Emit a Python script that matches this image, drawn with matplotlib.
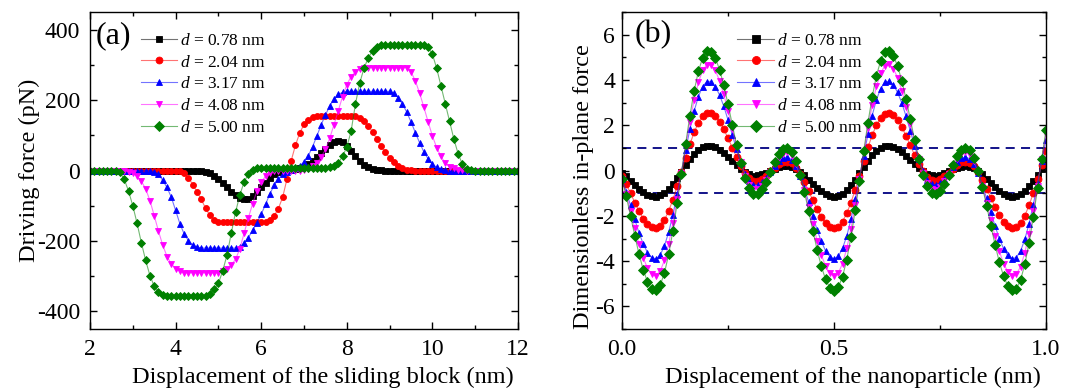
import matplotlib
matplotlib.use('Agg')
import matplotlib.pyplot as plt
import matplotlib.colors as mcolors
from matplotlib.ticker import MultipleLocator, FormatStrFormatter
import numpy as np

plt.rcParams['font.family'] = 'Liberation Serif'
plt.rcParams['mathtext.fontset'] = 'custom'
plt.rcParams['mathtext.it'] = 'Liberation Serif:italic'
plt.rcParams['mathtext.rm'] = 'Liberation Serif'
plt.rcParams['axes.unicode_minus'] = False

# series shared by both panels
labels = ['$d$ = 0.78 nm', '$d$ = 2.04 nm', '$d$ = 3.17 nm', '$d$ = 4.08 nm', '$d$ = 5.00 nm']
colors = ['#000000', '#ff0000', '#0000ff', '#ff00ff', '#008000']
markers = ['s', 'o', '^', 'v', 'D']

# (a) driving force (pN) vs displacement of the sliding block, 2..12 nm every 0.1 nm
block_x = np.linspace(2, 12, 101)
drive_078 = ([0] * 27
             + [-3, -8, -16, -24, -36, -48, -60, -70, -77, -81,
                -80, -73, -62, -48, -34, -21, -11, -4, 0, 1,
                2, 4, 7, 11, 18, 27, 38, 50, 62, 73,
                81, 85, 81, 71, 56, 41, 27, 16, 9, 4,
                2, 1]
             + [0] * 32)
drive_204 = ([0] * 21
             + [-2, -7, -20, -40, -60, -82, -107, -127, -139, -145]
             + [-147] * 11
             + [-141, -129, -108, -76, -25, 28, 72, 107, 131, 144, 151]
             + [154] * 10
             + [150, 141, 127, 110, 90, 70, 52, 36, 23, 13, 7, 3, 1]
             + [0] * 25)
drive_317 = ([0] * 15
             + [-3, -10, -28, -48, -76, -113, -151, -180, -199, -211, -217]
             + [-220] * 9
             + [-216, -206, -190, -170, -148, -124, -96, -67, -42, -24, -11, -3,
                3, 8, 14, 24, 42, 68, 98, 130, 158, 183, 203, 216, 222]
             + [225] * 11
             + [219, 207, 189, 166, 138, 108, 79, 53, 33, 18, 9, 4, 2]
             + [0] * 17)
drive_408 = ([0] * 9
             + [-3, -8, -16, -30, -52, -85, -128, -172, -212, -244, -265, -278, -285]
             + [-290] * 9
             + [-286, -279, -268, -252, -222, -178, -134, -94, -58, -33, -16, -7, -2]
             + [0] * 6
             + [2, 5, 12, 22, 38, 60, 92, 130, 170, 210, 244, 267, 280, 288]
             + [292] * 11
             + [280, 255, 220, 180, 138, 98, 65, 40, 21, 11, 6, 3, 1]
             + [0] * 13)
drive_500 = ([0] * 7
             + [-5, -25, -58, -100, -150, -205, -255, -298, -328, -344, -352]
             + [-355] * 10
             + [-350, -337, -320, -285, -240, -178, -118, -70, -32, -10, 2]
             + [8] * 17
             + [10, 14, 22, 40, 67, 112, 188, 248, 290, 320, 340, 352]
             + [357] * 11
             + [350, 330, 290, 240, 190, 140, 90, 48, 18, 5, 1]
             + [0] * 11)

# (b) dimensionless in-plane force vs displacement of the nanoparticle, 0..1 nm every 0.01 nm
particle_x = np.linspace(0, 1, 101)
inplane_078 = [-0.09, -0.26, -0.44, -0.63, -0.80, -0.95, -1.07, -1.13, -1.15, -1.10,
               -0.99, -0.81, -0.59, -0.33, -0.05, 0.23, 0.49, 0.72, 0.90, 1.03,
               1.09, 1.09, 1.03, 0.93, 0.78, 0.61, 0.42, 0.24, 0.07, -0.07,
               -0.17, -0.22, -0.21, -0.17, -0.10, -0.02, 0.07, 0.14, 0.19, 0.20,
               0.16, 0.08, -0.05, -0.21, -0.40, -0.58, -0.76, -0.92, -1.04, -1.12,
               -1.15, -1.12, -1.02, -0.86, -0.65, -0.40, -0.12, 0.16, 0.43, 0.67,
               0.86, 1.00, 1.09, 1.10, 1.05, 0.96, 0.82, 0.65, 0.47, 0.28,
               0.11, -0.04, -0.15, -0.21, -0.22, -0.19, -0.12, -0.04, 0.05, 0.13,
               0.18, 0.20, 0.18, 0.10, -0.02, -0.17, -0.35, -0.54, -0.72, -0.88,
               -1.02, -1.11, -1.15, -1.13, -1.05, -0.90, -0.70, -0.46, -0.19, 0.09,
               0.36]
inplane_204 = [-0.23, -0.60, -1.00, -1.41, -1.79, -2.12, -2.37, -2.51, -2.55, -2.44,
               -2.18, -1.78, -1.28, -0.69, -0.06, 0.57, 1.16, 1.69, 2.11, 2.40,
               2.54, 2.53, 2.40, 2.16, 1.82, 1.43, 1.01, 0.59, 0.20, -0.11,
               -0.33, -0.44, -0.44, -0.36, -0.22, -0.04, 0.13, 0.28, 0.38, 0.40,
               0.32, 0.13, -0.15, -0.50, -0.90, -1.31, -1.70, -2.05, -2.32, -2.49,
               -2.55, -2.48, -2.25, -1.89, -1.41, -0.84, -0.22, 0.41, 1.02, 1.56,
               2.01, 2.33, 2.52, 2.54, 2.44, 2.22, 1.92, 1.53, 1.11, 0.69,
               0.29, -0.04, -0.29, -0.42, -0.45, -0.38, -0.26, -0.09, 0.09, 0.25,
               0.36, 0.40, 0.35, 0.19, -0.07, -0.41, -0.80, -1.21, -1.61, -1.97,
               -2.26, -2.45, -2.55, -2.51, -2.32, -1.99, -1.54, -0.99, -0.38, 0.25,
               0.87]
inplane_317 = [-0.37, -0.93, -1.54, -2.16, -2.75, -3.24, -3.62, -3.84, -3.90, -3.73,
               -3.32, -2.72, -1.94, -1.04, -0.07, 0.90, 1.82, 2.62, 3.27, 3.71,
               3.93, 3.92, 3.71, 3.34, 2.84, 2.23, 1.58, 0.94, 0.35, -0.13,
               -0.47, -0.63, -0.63, -0.51, -0.31, -0.05, 0.21, 0.43, 0.56, 0.60,
               0.48, 0.19, -0.24, -0.78, -1.38, -2.01, -2.61, -3.13, -3.54, -3.80,
               -3.90, -3.79, -3.44, -2.89, -2.15, -1.27, -0.32, 0.66, 1.60, 2.43,
               3.13, 3.62, 3.90, 3.94, 3.78, 3.45, 2.98, 2.39, 1.75, 1.10,
               0.49, -0.02, -0.40, -0.61, -0.64, -0.55, -0.36, -0.12, 0.15, 0.38,
               0.54, 0.60, 0.52, 0.27, -0.12, -0.64, -1.23, -1.85, -2.46, -3.01,
               -3.45, -3.75, -3.89, -3.84, -3.55, -3.04, -2.34, -1.50, -0.56, 0.42,
               1.37]
inplane_408 = [-0.37, -1.05, -1.79, -2.55, -3.25, -3.85, -4.31, -4.58, -4.64, -4.44,
               -3.96, -3.24, -2.31, -1.24, -0.09, 1.07, 2.16, 3.12, 3.89, 4.42,
               4.68, 4.66, 4.42, 3.97, 3.36, 2.63, 1.85, 1.07, 0.36, -0.22,
               -0.63, -0.83, -0.82, -0.67, -0.40, -0.06, 0.28, 0.57, 0.75, 0.80,
               0.65, 0.30, -0.22, -0.87, -1.60, -2.36, -3.09, -3.72, -4.22, -4.53,
               -4.65, -4.52, -4.11, -3.44, -2.56, -1.52, -0.38, 0.78, 1.90, 2.89,
               3.72, 4.30, 4.64, 4.69, 4.50, 4.10, 3.53, 2.82, 2.04, 1.26,
               0.53, -0.09, -0.55, -0.80, -0.84, -0.72, -0.47, -0.15, 0.20, 0.51,
               0.72, 0.80, 0.70, 0.41, -0.07, -0.70, -1.42, -2.17, -2.91, -3.57,
               -4.11, -4.47, -4.64, -4.58, -4.24, -3.63, -2.79, -1.79, -0.67, 0.49,
               1.62]
inplane_500 = [-0.35, -1.14, -2.00, -2.87, -3.69, -4.38, -4.91, -5.22, -5.29, -5.06,
               -4.52, -3.70, -2.65, -1.44, -0.13, 1.18, 2.42, 3.51, 4.38, 4.98,
               5.27, 5.25, 4.97, 4.46, 3.76, 2.93, 2.03, 1.14, 0.33, -0.33,
               -0.79, -1.03, -1.02, -0.82, -0.49, -0.07, 0.36, 0.72, 0.94, 1.00,
               0.83, 0.42, -0.18, -0.93, -1.78, -2.65, -3.49, -4.23, -4.80, -5.17,
               -5.30, -5.15, -4.69, -3.93, -2.93, -1.75, -0.46, 0.85, 2.12, 3.25,
               4.19, 4.85, 5.23, 5.28, 5.07, 4.61, 3.96, 3.15, 2.26, 1.36,
               0.52, -0.18, -0.70, -1.00, -1.04, -0.89, -0.58, -0.18, 0.25, 0.64,
               0.90, 1.00, 0.89, 0.54, -0.01, -0.73, -1.56, -2.44, -3.29, -4.05,
               -4.67, -5.10, -5.29, -5.22, -4.83, -4.14, -3.20, -2.06, -0.79, 0.53,
               1.81]
threshold = [1, -1]  # dashed reference levels in (b)


def plot_series(ax, x, series, ms):
    for y, label, color, marker in zip(series, labels, colors, markers):
        # connecting line is drawn a bit lighter than the symbols
        ax.plot(x, y, color=mcolors.to_rgba(color, 0.55), lw=0.8,
                marker=marker, ms=ms, mfc=color, mec=color, mew=0.6, label=label)


def setup_axes(ax, pad):
    ax.tick_params(which='both', direction='in', top=True, right=True,
                   labelsize=17, width=1)
    ax.tick_params(which='major', length=5, pad=pad)
    ax.tick_params(which='minor', length=3)
    ax.tick_params(axis='x', which='major', pad=7)
    for spine in ax.spines.values():
        spine.set_linewidth(1)


def add_legend(ax, left):
    ax.legend(loc='upper left', bbox_to_anchor=(left, 0.935), frameon=False,
              fontsize=12.5, handlelength=2.1, handletextpad=0.2, labelspacing=0.32,
              borderpad=0, borderaxespad=0, numpoints=1, markerscale=1.15)


fig = plt.figure(figsize=(10.69, 3.89), dpi=100)

# Panel (a)
ax1 = fig.add_axes([0.0842, 0.154, 0.4004, 0.815])
plot_series(ax1, block_x, [drive_078, drive_204, drive_317, drive_408, drive_500], 4.3)
ax1.set_xlim(2, 12)
ax1.set_ylim(-450, 450)
ax1.xaxis.set_major_locator(MultipleLocator(2))
ax1.xaxis.set_minor_locator(MultipleLocator(1))
ax1.yaxis.set_major_locator(MultipleLocator(200))
ax1.yaxis.set_minor_locator(MultipleLocator(100))
setup_axes(ax1, 7)
ax1.set_xlabel('Displacement of the sliding block (nm)', fontsize=17.5)
ax1.set_ylabel('Driving force (pN)', fontsize=17.5)
ax1.xaxis.set_label_coords(0.545, -0.12)
ax1.yaxis.set_label_coords(-0.117, 0.5)
ax1.text(0.012, 0.925, '(a)', transform=ax1.transAxes, fontsize=23, va='center')
add_legend(ax1, 0.118)

# Panel (b)
ax2 = fig.add_axes([0.5819, 0.154, 0.3966, 0.815])
for level in threshold:
    ax2.axhline(level, color='#000080', lw=1.3, ls=(0, (5, 3.5)), zorder=1)
plot_series(ax2, particle_x, [inplane_078, inplane_204, inplane_317, inplane_408, inplane_500], 5)
ax2.set_xlim(0, 1)
ax2.set_ylim(-7, 7)
ax2.xaxis.set_major_locator(MultipleLocator(0.5))
ax2.xaxis.set_minor_locator(MultipleLocator(0.25))
ax2.xaxis.set_major_formatter(FormatStrFormatter('%.1f'))
ax2.yaxis.set_major_locator(MultipleLocator(2))
ax2.yaxis.set_minor_locator(MultipleLocator(1))
setup_axes(ax2, 5)
ax2.set_xlabel('Displacement of the nanoparticle (nm)', fontsize=17.5)
ax2.set_ylabel('Dimensionless in-plane force', fontsize=17.5)
ax2.xaxis.set_label_coords(0.545, -0.12)
ax2.yaxis.set_label_coords(-0.066, 0.45)
ax2.text(0.03, 0.93, '(b)', transform=ax2.transAxes, fontsize=23, va='center')
add_legend(ax2, 0.272)

fig.savefig('out.png', dpi=100)
